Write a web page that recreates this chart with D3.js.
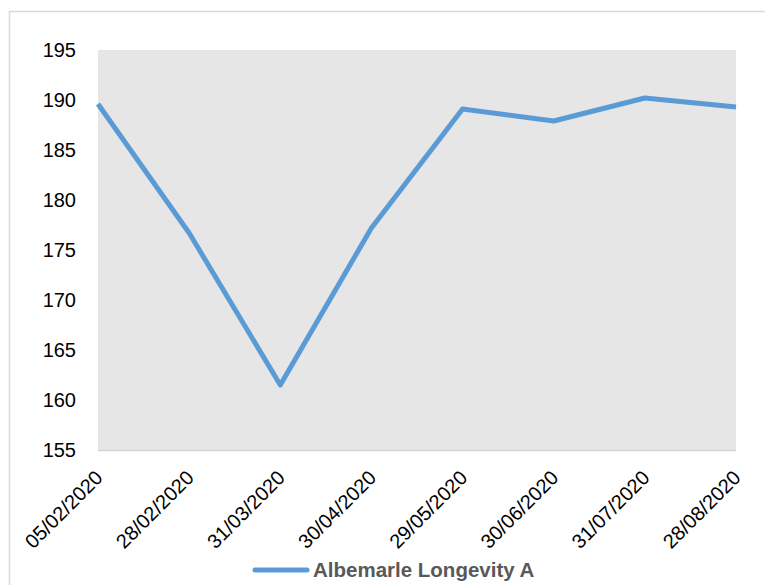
<!DOCTYPE html>
<html>
<head>
<meta charset="utf-8">
<script src="https://cdn.jsdelivr.net/npm/d3@7"></script>
<style>
  html, body { margin: 0; padding: 0; background: #fff; }
  svg { display: block; }
</style>
</head>
<body>
<svg id="chart" width="765" height="585"></svg>
<script>
const categories = ["05/02/2020", "28/02/2020", "31/03/2020", "30/04/2020", "29/05/2020", "30/06/2020", "31/07/2020", "28/08/2020"];
const values = [189.6, 176.7, 161.5, 177.2, 189.1, 187.9, 190.2, 189.3];
const yTicks = [155, 160, 165, 170, 175, 180, 185, 190, 195];
const seriesName = "Albemarle Longevity A";

const svg = d3.select("#chart");
const font = "'Liberation Sans', Arial, sans-serif";
const plot = { left: 98, right: 736, top: 50, bottom: 450 };

// outer chart border (extends past the picture)
svg.append("rect")
  .attr("x", 9.5).attr("y", 11.5)
  .attr("width", 800).attr("height", 640)
  .attr("fill", "#fff").attr("stroke", "#d9d9d9").attr("stroke-width", 1.5);

const x = d3.scalePoint().domain(categories).range([plot.left, plot.right]);
const y = d3.scaleLinear().domain([155, 195]).range([plot.bottom, plot.top]);

// plot background
svg.append("rect")
  .attr("x", plot.left).attr("y", plot.top)
  .attr("width", plot.right - plot.left).attr("height", plot.bottom - plot.top)
  .attr("fill", "#e6e6e6");

// bottom axis line
svg.append("line")
  .attr("x1", plot.left).attr("x2", plot.right)
  .attr("y1", plot.bottom + 0.5).attr("y2", plot.bottom + 0.5)
  .attr("stroke", "#d4d4d4").attr("stroke-width", 1.5);

// y axis labels
const yAxis = d3.axisLeft(y).tickValues(yTicks).tickSize(0).tickPadding(0);
const yg = svg.append("g").attr("transform", "translate(76,0)").call(yAxis);
yg.select(".domain").remove();
yg.selectAll("text")
  .attr("font-family", font).attr("font-size", 20).attr("fill", "#000");

// x axis labels
const xg = svg.append("g");
xg.selectAll("text").data(categories).join("text")
  .attr("transform", d => `translate(${x(d) + 1},${474}) rotate(-45)`)
  .attr("text-anchor", "end")
  .attr("dy", "0.35em")
  .attr("font-family", font).attr("font-size", 20).attr("fill", "#000")
  .text(d => d);

// line
const line = d3.line()
  .x((d, i) => x(categories[i]))
  .y(d => y(d));
svg.append("path")
  .datum(values)
  .attr("d", line)
  .attr("fill", "none")
  .attr("stroke", "#5b9bd5")
  .attr("stroke-width", 5)
  .attr("stroke-linejoin", "round");

// legend
svg.append("line")
  .attr("x1", 255).attr("x2", 307)
  .attr("y1", 570).attr("y2", 570)
  .attr("stroke", "#5b9bd5").attr("stroke-width", 5)
  .attr("stroke-linecap", "round");
svg.append("text")
  .attr("x", 313).attr("y", 577)
  .attr("font-family", font).attr("font-size", 20.5).attr("font-weight", "bold")
  .attr("fill", "#595959")
  .text(seriesName);
</script>
</body>
</html>
